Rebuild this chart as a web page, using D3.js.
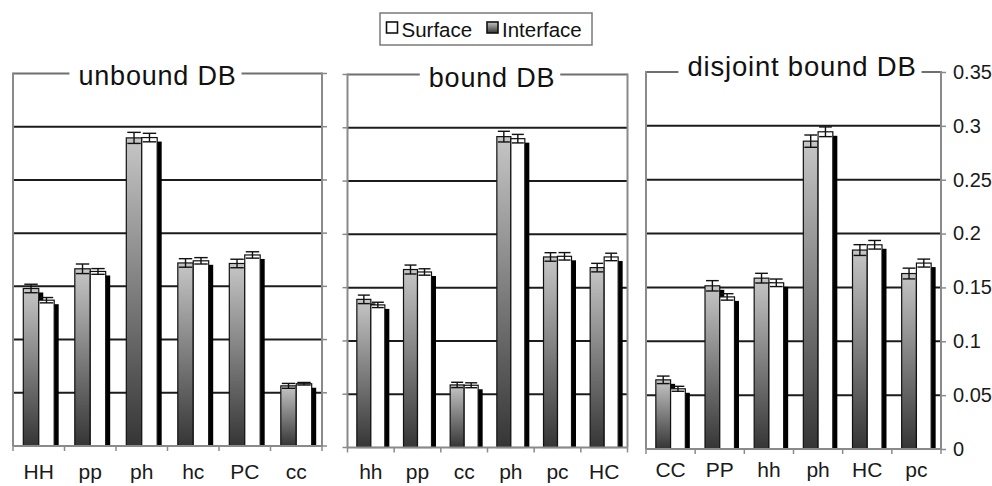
<!DOCTYPE html>
<html>
<head>
<meta charset="utf-8">
<script src="https://cdn.jsdelivr.net/npm/d3@7"></script>
<style>
  body { margin: 0; background: #fff; }
  svg { display: block; font-family: "Liberation Sans", Arial, sans-serif; }
</style>
</head>
<body>
<svg id="chart" width="992" height="486"></svg>
<script>
// ---- data ----
const seriesNames = ["Interface", "Surface"];
const legendOrder = ["Surface", "Interface"];

const yTickValues = [0, 0.05, 0.1, 0.15, 0.2, 0.25, 0.3, 0.35];
const yTickLabels = ["0", "0.05", "0.1", "0.15", "0.2", "0.25", "0.3", "0.35"];

const unboundCats      = ["HH", "pp", "ph", "hc", "PC", "cc"];
const unboundInterface = [0.148, 0.1665, 0.2895, 0.172, 0.1715, 0.0565];
const unboundSurface   = [0.137, 0.164, 0.2898, 0.174, 0.1795, 0.0585];
const unboundErrI      = [0.004, 0.0045, 0.0052, 0.004, 0.004, 0.0023];
const unboundErrS      = [0.0025, 0.0027, 0.004, 0.003, 0.003, 0.0012];

const boundCats      = ["hh", "pp", "cc", "ph", "pc", "HC"];
const boundInterface = [0.139, 0.167, 0.0587, 0.2917, 0.1788, 0.1688];
const boundSurface   = [0.1338, 0.1647, 0.0584, 0.2898, 0.1794, 0.1788];
const boundErrI      = [0.004, 0.0042, 0.0025, 0.005, 0.004, 0.004];
const boundErrS      = [0.0025, 0.003, 0.0023, 0.004, 0.0035, 0.0035];

const disjointCats      = ["CC", "PP", "hh", "ph", "HC", "pc"];
const disjointInterface = [0.0642, 0.1515, 0.1586, 0.2858, 0.1847, 0.1629];
const disjointSurface   = [0.0559, 0.1412, 0.1543, 0.2945, 0.1896, 0.1726];
const disjointErrI      = [0.0035, 0.0048, 0.0045, 0.0057, 0.005, 0.005];
const disjointErrS      = [0.0023, 0.003, 0.0035, 0.0045, 0.004, 0.0037];

const panelTitles = ["unbound DB", "bound DB", "disjoint bound DB"];

// ---- layout of the three side-by-side plots ----
const panels = [
  { title: panelTitles[0], cats: unboundCats, vals: [unboundInterface, unboundSurface], errs: [unboundErrI, unboundErrS],
    left: 13, right: 322, bottom: 446, top: 73.5, titleX: 157.5, titleY: 85, fontSize: 27, side: "right", labelY: 479 },
  { title: panelTitles[1], cats: boundCats, vals: [boundInterface, boundSurface], errs: [boundErrI, boundErrS],
    left: 347.5, right: 627.5, bottom: 447.5, top: 74.5, titleX: 492, titleY: 86.5, fontSize: 27, side: "left", labelY: 479 },
  { title: panelTitles[2], cats: disjointCats, vals: [disjointInterface, disjointSurface], errs: [disjointErrI, disjointErrS],
    left: 646, right: 941, bottom: 449, top: 72, titleX: 802, titleY: 75.5, fontSize: 27.5, side: "axis", labelY: 477 }
];

const svg = d3.select("#chart");

const defs = svg.append("defs");
const grad = defs.append("linearGradient")
  .attr("id", "barGrad").attr("x1", 0).attr("y1", 0).attr("x2", 0).attr("y2", 1);
grad.append("stop").attr("offset", "0%").attr("stop-color", "#c6c6c6");
grad.append("stop").attr("offset", "100%").attr("stop-color", "#353535");

const fills = { Interface: "url(#barGrad)", Surface: "#ffffff" };
const shadowDx = 4.5, shadowDy = 4;

panels.forEach(p => {
  const g = svg.append("g");
  const y = d3.scaleLinear().domain([0, 0.35]).range([p.bottom, p.top]);
  const x = d3.scaleBand().domain(p.cats).range([p.left, p.right]);
  const xs = d3.scaleBand().domain(seriesNames).range([0, x.bandwidth()]).paddingOuter(0.667);
  const bw = xs.bandwidth();

  // horizontal gridlines
  g.selectAll("line.grid")
    .data(yTickValues.filter(v => v > 0 && v < 0.35))
    .join("line")
    .attr("x1", p.left).attr("x2", p.right)
    .attr("y1", d => y(d)).attr("y2", d => y(d))
    .attr("stroke", "#1c1c1c").attr("stroke-width", 2);

  // frame: top edge, left / right edges
  g.append("line").attr("x1", p.left).attr("x2", p.right)
    .attr("y1", y(0.35)).attr("y2", y(0.35))
    .attr("stroke", "#6f6f6f").attr("stroke-width", 2);
  [p.left, p.right].forEach(xx => {
    g.append("line").attr("x1", xx).attr("x2", xx)
      .attr("y1", y(0.35) - 1).attr("y2", y(0))
      .attr("stroke", "#8a8a8a").attr("stroke-width", 2);
  });

  // side ticks
  if (p.side === "right" || p.side === "left") {
    const sx = p.side === "right" ? p.right : p.left;
    const dir = p.side === "right" ? 1 : -1;
    g.selectAll("line.sidetick").data(yTickValues).join("line")
      .attr("x1", sx).attr("x2", sx + dir * 5)
      .attr("y1", d => y(d)).attr("y2", d => y(d))
      .attr("stroke", "#8a8a8a").attr("stroke-width", 1.5);
  } else {
    const ax = g.append("g")
      .attr("transform", `translate(${p.right},0)`)
      .call(d3.axisRight(y).tickValues(yTickValues)
        .tickFormat((d, i) => yTickLabels[i]).tickSize(5).tickPadding(7));
    ax.select(".domain").remove();
    ax.selectAll("line").attr("stroke", "#8a8a8a").attr("stroke-width", 1.5);
    ax.selectAll("text").attr("font-size", 20).attr("fill", "#1a1a1a")
      .attr("font-family", '"Liberation Sans", Arial, sans-serif');
  }

  // bars with drop shadows, one series at a time
  seriesNames.forEach((s, si) => {
    const vals = p.vals[si];
    const bars = p.cats.map((c, i) => ({ c, v: vals[i] }));
    g.selectAll(null).data(bars).join("rect")
      .attr("x", d => x(d.c) + xs(s) + shadowDx)
      .attr("y", d => y(d.v) + shadowDy)
      .attr("width", bw)
      .attr("height", d => y(0) - y(d.v) - shadowDy)
      .attr("fill", "#000");
    g.selectAll(null).data(bars).join("rect")
      .attr("x", d => x(d.c) + xs(s))
      .attr("y", d => y(d.v))
      .attr("width", bw)
      .attr("height", d => y(0) - y(d.v))
      .attr("fill", fills[s])
      .attr("stroke", "#111").attr("stroke-width", 1.2);
  });

  // error bars
  seriesNames.forEach((s, si) => {
    const eb = p.cats.map((c, i) => ({ c, v: p.vals[si][i], e: p.errs[si][i] }));
    const eg = g.selectAll(null).data(eb).join("g")
      .attr("transform", d => `translate(${x(d.c) + xs(s) + bw / 2},0)`);
    eg.append("line").attr("x1", 0).attr("x2", 0)
      .attr("y1", d => y(d.v + d.e)).attr("y2", d => y(d.v - d.e))
      .attr("stroke", "#111").attr("stroke-width", 1.4);
    eg.append("line").attr("x1", -bw / 2 + 1).attr("x2", bw / 2 - 1)
      .attr("y1", d => y(d.v + d.e)).attr("y2", d => y(d.v + d.e))
      .attr("stroke", "#111").attr("stroke-width", 1.4);
    eg.append("line").attr("x1", -bw / 2 + 1).attr("x2", bw / 2 - 1)
      .attr("y1", d => y(d.v - d.e)).attr("y2", d => y(d.v - d.e))
      .attr("stroke", "#111").attr("stroke-width", 1.4);
  });

  // category axis along the bottom
  g.append("line").attr("x1", p.left).attr("x2", p.right)
    .attr("y1", y(0)).attr("y2", y(0))
    .attr("stroke", "#8a8a8a").attr("stroke-width", 2);
  const bounds = p.cats.map(c => x(c)).concat([x.range()[1]]);
  g.selectAll(null).data(bounds).join("line")
    .attr("x1", d => d).attr("x2", d => d)
    .attr("y1", y(0)).attr("y2", y(0) + 5)
    .attr("stroke", "#8a8a8a").attr("stroke-width", 1.5);
  g.selectAll(null).data(p.cats).join("text")
    .attr("x", d => x(d) + x.bandwidth() / 2)
    .attr("y", p.labelY)
    .attr("text-anchor", "middle")
    .attr("font-size", 21).attr("fill", "#1a1a1a")
    .text(d => d);

  // title sitting on the top edge, with a white gap cut in the line behind it
  const gap = g.append("rect");
  const t = g.append("text")
    .attr("x", p.titleX).attr("y", p.titleY)
    .attr("text-anchor", "middle")
    .attr("font-size", p.fontSize)
    .attr("letter-spacing", "0.8px")
    .attr("fill", "#111")
    .text(p.title);
  const bb = t.node().getBBox();
  gap.attr("x", bb.x - 9).attr("y", y(0.35) - 3)
    .attr("width", bb.width + 14).attr("height", 6)
    .attr("fill", "#fff");
});

// legend
const lg = svg.append("g");
lg.append("rect").attr("x", 380).attr("y", 13).attr("width", 212).attr("height", 32)
  .attr("fill", "#fff").attr("stroke", "#7a7a7a").attr("stroke-width", 1.5);
const legendX = { Surface: 386.5, Interface: 487 };
legendOrder.forEach(s => {
  lg.append("rect").attr("x", legendX[s]).attr("y", 22).attr("width", 11).attr("height", 11)
    .attr("fill", fills[s]).attr("stroke", "#111").attr("stroke-width", 1.6);
  lg.append("text").attr("x", legendX[s] + 15).attr("y", 36.5)
    .attr("font-size", 20.5).attr("fill", "#111").text(s);
});
</script>
</body>
</html>
